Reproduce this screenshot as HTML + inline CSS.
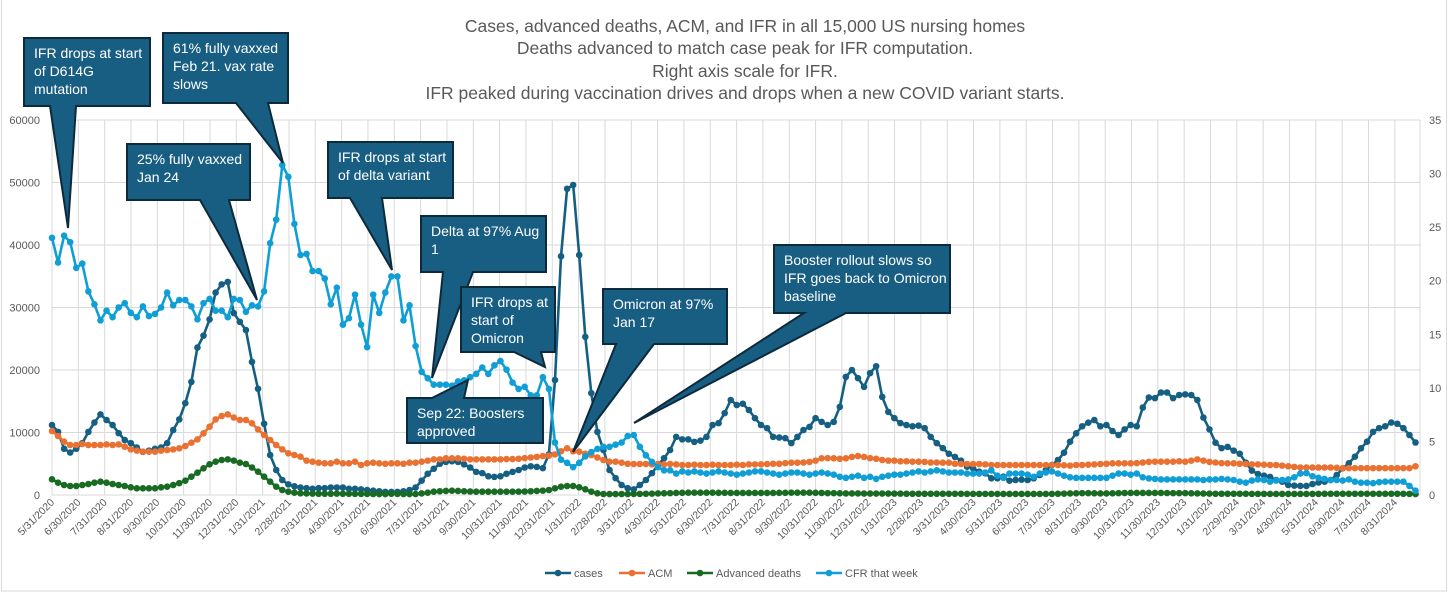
<!DOCTYPE html>
<html><head><meta charset="utf-8"><style>
html,body{margin:0;padding:0;background:#fff;}
svg{display:block;font-family:"Liberation Sans Narrow","Liberation Sans",sans-serif;}
</style></head><body>
<svg id="chart" width="1448" height="596" viewBox="0 0 1448 596" xmlns="http://www.w3.org/2000/svg">
<rect x="1.5" y="-1" width="1445" height="592" fill="#fff" stroke="#d9d9d9"/>
<g id="grid"></g>
<g id="axes"></g>
<g id="series"></g>
<g fill="#595959" font-size="17.5" text-anchor="middle">
<text x="745" y="32">Cases, advanced deaths, ACM, and IFR in all 15,000 US nursing homes</text>
<text x="745" y="54">Deaths advanced to match case peak for IFR computation.</text>
<text x="745" y="77">Right axis scale for IFR.</text>
<text x="745" y="99">IFR peaked during vaccination drives and drops when a new COVID variant starts.</text>
</g>
<g id="callouts"></g>
<g id="legend"></g>
</svg>
<script>
const cases = [11200,10100,7400,6800,7400,8300,10100,11600,12900,12000,11200,9900,8800,8300,7600,6900,7100,7400,7600,8300,10400,12100,14700,18100,23600,25500,28100,32400,33700,34100,29100,27700,26400,21300,17000,11400,6400,4000,2400,1700,1400,1200,1100,1000,1100,1100,1200,1200,1200,1000,1000,
900,800,700,600,500,500,500,600,800,
1200,2300,3400,4200,5000,5300,5400,5300,4900,4400,
3700,3500,3000,2900,3000,3400,3700,4000,4400,4600,4500,4300,
6500,18400,38200,49000,49600,38400,25300,16300,10100,7200,4000,2700,1600,1100,900,1600,2400,3500,4800,5900,7200,9300,8900,8900,8500,8700,9300,11200,11500,13100,15200,14400,14600,13600,12300,11200,10700,9300,9200,9100,8300,9300,10400,10900,12300,11700,11200,11700,14100,18900,20000,18700,17300,19500,20600,15700,13300,12300,11500,11200,11000,11100,10700,9300,8300,7500,
6600,6100,5500,4530,4270,3730,3470,2670,2670,2930,2290,2400,2450,2400,2670,3200,4000,4800,5600,6770,8530,9870,11000,11570,12000,11000,11200,10240,9600,10500,11200,11000,14000,15600,15500,16400,16400,15500,16000,16100,16000,15200,12400,10500,8370,7500,7700,7100,6600,5170,3900,3360,3100,2900,2400,2130,1600,1500,1450,1450,1760,2000,2130,2400,3200,4270,5070,6130,7470,8530,10100,10700,11000,11600,11400,10700,9600,8400];
const acm = [10240,9440,8530,8000,8000,8160,8000,8000,8000,8100,8000,8100,7730,7300,7100,6930,6930,6930,7100,7200,7300,7470,7840,8370,8900,9870,10930,12100,12640,12900,12400,12000,12000,11470,10500,9600,8800,8000,7300,6670,6400,6130,5500,5330,5170,5070,5070,5330,5070,5070,5330,4800,5070,5170,5070,5000,5070,5070,5000,5170,5170,5330,5500,5700,5700,5870,5870,5870,5800,5700,5700,5700,
5700,5700,5700,5750,5750,5800,5900,6000,6100,6240,6300,6500,7000,7470,7000,6930,6600,6400,6000,5600,5330,5330,5170,5000,4960,4960,4960,4900,4960,4900,4960,4900,4800,4800,4850,4800,4800,4850,4800,4800,
4800,4850,4800,4900,4900,4900,4950,5000,5000,5100,5170,5170,5200,5300,5500,5870,5900,5870,5800,5870,6100,6240,6100,5900,5800,5600,5500,5500,5400,5400,5330,5330,5300,5200,5200,5170,
5170,5000,4960,4960,4960,4960,4900,4800,4800,4800,4800,4800,4800,4800,4800,4800,4800,4800,4800,4750,4700,4800,4800,4850,4900,4960,5000,5070,5070,5070,5070,5100,5200,5300,5330,5330,5330,5330,5400,5330,5500,5700,5500,5300,5200,5100,5070,5070,5000,4960,4900,4900,4850,4800,4800,4700,4600,4500,4400,4400,4400,4400,4400,4400,4350,4300,4300,4300,4300,4300,4300,4300,4300,4300,4300,4300,4300,4600];
const advDeaths = [2510,1970,1600,1440,1440,1600,1760,1970,2130,1970,1760,1600,1440,1230,1070,1070,1070,1070,1230,1330,1600,1900,2290,2930,3570,4270,4910,5330,5600,5700,5500,5170,4960,4400,3730,2930,2130,1330,800,530,370,270,250,220,200,200,200,220,200,200,180,180,170,160,150,150,200,180,160,150,150,250,370,530,600,650,690,650,600,560,530,530,
530,530,530,530,530,540,560,600,650,700,800,1070,1330,1440,1440,1230,910,530,270,160,
150,150,160,160,170,180,200,220,250,270,300,330,350,370,370,370,370,370,350,350,330,330,330,330,330,330,330,330,350,350,370,370,370,370,350,330,300,300,270,250,250,250,230,230,230,230,230,220,220,200,200,200,200,200,200,200,
200,200,200,180,180,180,180,180,170,170,170,170,170,170,170,170,170,180,200,220,250,270,300,300,270,250,250,270,300,320,330,330,330,330,330,330,320,300,300,300,270,250,230,220,200,200,200,200,200,200,180,180,180,170,170,170,170,170,170,170,180,180,200,200,200,200,200,200,200,200,200,200,200,200,200,200,180,150];
const cfr = [24.0,21.7,24.2,23.6,21.2,21.6,19.0,17.8,16.3,17.2,16.6,17.5,17.9,17.0,16.6,17.6,16.7,16.9,17.5,18.9,17.7,18.2,18.2,17.6,16.4,17.9,18.3,17.2,17.2,16.6,18.3,18.2,17.1,17.7,17.6,19.0,23.5,25.7,30.8,29.7,25.3,22.4,22.5,20.9,20.9,20.2,17.8,19.35,15.9,16.5,18.7,15.9,13.8,18.7,17.0,18.9,20.4,20.4,16.3,17.7,13.9,11.5,10.9,10.3,10.3,10.3,10.2,10.6,10.7,11.0,11.3,11.9,
11.3,12.1,12.5,11.7,10.5,9.9,10.1,9.3,9.3,11.0,9.9,4.9,3.3,3.0,2.6,3.0,3.6,4.0,4.3,4.5,4.5,4.7,4.9,5.5,5.6,4.5,3.7,3.1,2.6,2.3,2.3,2.0,2.2,
2.1,2.2,2.1,2.0,2.1,2.2,2.1,2.0,1.9,2.0,2.1,2.2,2.2,2.1,2.0,1.9,2.0,2.1,2.1,2.0,1.9,2.0,2.1,2.0,1.9,1.7,1.6,1.7,1.8,1.6,1.7,1.5,1.7,1.8,1.9,1.9,2.0,2.1,2.2,2.1,2.2,2.3,2.2,
2.1,2.1,2.1,2.0,2.0,2.0,2.1,2.3,1.8,1.6,2.0,2.0,2.0,1.9,1.7,2.0,2.1,2.2,2.0,1.8,1.65,1.6,1.6,1.6,1.6,1.6,1.6,1.8,2.0,2.0,1.9,2.0,1.65,1.55,1.5,1.45,1.45,1.45,1.45,1.45,1.45,1.45,1.4,1.45,1.45,1.5,1.45,1.4,1.24,1.15,1.35,1.45,1.4,1.24,1.35,1.4,1.45,1.65,2.0,2.05,1.75,1.6,1.5,1.4,1.4,1.35,1.45,1.24,1.15,1.15,1.1,1.2,1.24,1.24,1.24,1.24,0.85,0.4];
const xLabels = ["5/31/2020","6/30/2020","7/31/2020","8/31/2020","9/30/2020","10/31/2020","11/30/2020","12/31/2020","1/31/2021","2/28/2021","3/31/2021","4/30/2021","5/31/2021","6/30/2021","7/31/2021","8/31/2021","9/30/2021","10/31/2021","11/30/2021","12/31/2021","1/31/2022","2/28/2022","3/31/2022","4/30/2022","5/31/2022","6/30/2022","7/31/2022","8/31/2022","9/30/2022","10/31/2022","11/30/2022","12/31/2022","1/31/2023","2/28/2023","3/31/2023","4/30/2023","5/31/2023","6/30/2023","7/31/2023","8/31/2023","9/30/2023","10/31/2023","11/30/2023","12/31/2023","1/31/2024","2/29/2024","3/31/2024","4/30/2024","5/31/2024","6/30/2024","7/31/2024","8/31/2024"];
const leftTicks = [0,10000,20000,30000,40000,50000,60000];
const rightTicks = [0,5,10,15,20,25,30,35];

const NS="http://www.w3.org/2000/svg";
const X0=52, WEEK=6.06, MONTH=26.33, PLOT_R=1420, Y0=495, YT=120;
const xW = i => X0 + i*WEEK;
const xM = k => X0 + k*MONTH;
const yL = v => Y0 - v/60000*(Y0-YT);
const yR = v => Y0 - v/35*(Y0-YT);
function mk(tag, attrs, parent){const e=document.createElementNS(NS,tag);for(const k in attrs)e.setAttribute(k,attrs[k]);parent.appendChild(e);return e;}

const grid=document.getElementById('grid');
leftTicks.forEach(t=>{
  const l=mk('line',{x1:X0,x2:PLOT_R,y1:yL(t),y2:yL(t),stroke:'#d9d9d9','stroke-width':1},grid);
  
  
});
for(let k=0;k<=xLabels.length;k++){
  const x=Math.min(xM(k),PLOT_R);
  const l=mk('line',{x1:x,x2:x,y1:YT,y2:Y0,stroke:'#d9d9d9','stroke-width':1},grid);
  
  
}
const axes=document.getElementById('axes');
leftTicks.forEach(t=>{
  const tx=mk('text',{x:40,y:yL(t)+4,'text-anchor':'end','font-size':11,fill:'#595959'},axes);
  tx.textContent=t;
  
  
});
rightTicks.forEach(t=>{
  const tx=mk('text',{x:1429,y:yR(t)+4,'font-size':11,fill:'#595959'},axes);
  tx.textContent=t;
  
  
});
xLabels.forEach((s,k)=>{
  const x=xM(k)+3, y=503;
  const tx=mk('text',{x:x,y:y,'text-anchor':'end','font-size':10.5,fill:'#595959',transform:`rotate(-45 ${x} ${y})`},axes);
  tx.textContent=s;
  
  
});

const seriesG=document.getElementById('series');
function drawSeries(vals, yf, color, name){
  const g=mk('g',{},seriesG);
  
  
  const pts=vals.map((v,i)=>xW(i).toFixed(1)+','+yf(v).toFixed(1)).join(' ');
  const pl=mk('polyline',{points:pts,fill:'none',stroke:color,'stroke-width':2.6,'stroke-linejoin':'round'},g);
  
  
  vals.forEach((v,i)=>{
    const c=mk('circle',{cx:xW(i),cy:yf(v),r:3.3,fill:color},g);
    
    
  });
}
drawSeries(cases,yL,'#156082','cases-series');
drawSeries(acm,yL,'#e97132','acm-series');
drawSeries(advDeaths,yL,'#196b24','advanced-deaths-series');
drawSeries(cfr,yR,'#0f9ed5','cfr-series');

const cg=document.getElementById('callouts');
function callout(name,x,y,w,h,edge,b1,b2,tx,ty,lines){
  const g=mk('g',{},cg);
  
  
  let p;
  if(edge==='bottom') p=[[x,y],[x+w,y],[x+w,y+h],[b2,y+h],[tx,ty],[b1,y+h],[x,y+h]];
  else p=[[x,y],[b1,y],[tx,ty],[b2,y],[x+w,y],[x+w,y+h],[x,y+h]];
  mk('polygon',{points:p.map(q=>q.join(',')).join(' '),fill:'#185e82',stroke:'#0c2a3c','stroke-width':2,'stroke-linejoin':'miter'},g);
  lines.forEach((s,i)=>{
    const t=mk('text',{x:x+10,y:y+20+i*18,'font-size':14,fill:'#fff'},g);
    t.textContent=s;
  });
}
callout('callout-d614g',24,38,126,68,'bottom',50,76,68,228,['IFR drops at start','of D614G','mutation']);
callout('callout-61-vaxxed',163,33,125,70,'bottom',236,268,283,163,['61% fully vaxxed','Feb 21. vax rate','slows']);
callout('callout-25-vaxxed',127,144,123,56,'bottom',200,229,257,300,['25% fully vaxxed','Jan 24']);
callout('callout-delta-start',328,142,125,56,'bottom',350,382,392,270,['IFR drops at start','of delta variant']);
callout('callout-delta-97',421,216,125,56,'bottom',443,473,432,378,['Delta at 97% Aug','1']);
callout('callout-omicron-start',461,287,94,65,'bottom',514,541,545,367,['IFR drops at','start of','Omicron']);
callout('callout-boosters',407,398,136,45,'top',432,464,468,380,['Sep 22: Boosters','approved']);
callout('callout-omicron-97',603,289,124,55,'bottom',616,654,573,452,['Omicron at 97%','Jan 17']);
callout('callout-booster-slows',774,245,176,68,'bottom',804,846,634,423,['Booster rollout slows so','IFR goes back to  Omicron','baseline']);

const lg=document.getElementById('legend');
const legendItems=[['cases','#156082',545],['ACM','#e97132',619],['Advanced deaths','#196b24',687],['CFR that week','#0f9ed5',816]];
legendItems.forEach(([label,color,x])=>{
  const g=mk('g',{},lg);
  
  
  mk('line',{x1:x,x2:x+26,y1:573,y2:573,stroke:color,'stroke-width':2.6},g);
  mk('circle',{cx:x+13,cy:573,r:3.3,fill:color},g);
  const t=mk('text',{x:x+29,y:577,'font-size':11,fill:'#595959'},g);
  t.textContent=label;
});
</script>
</body></html>
